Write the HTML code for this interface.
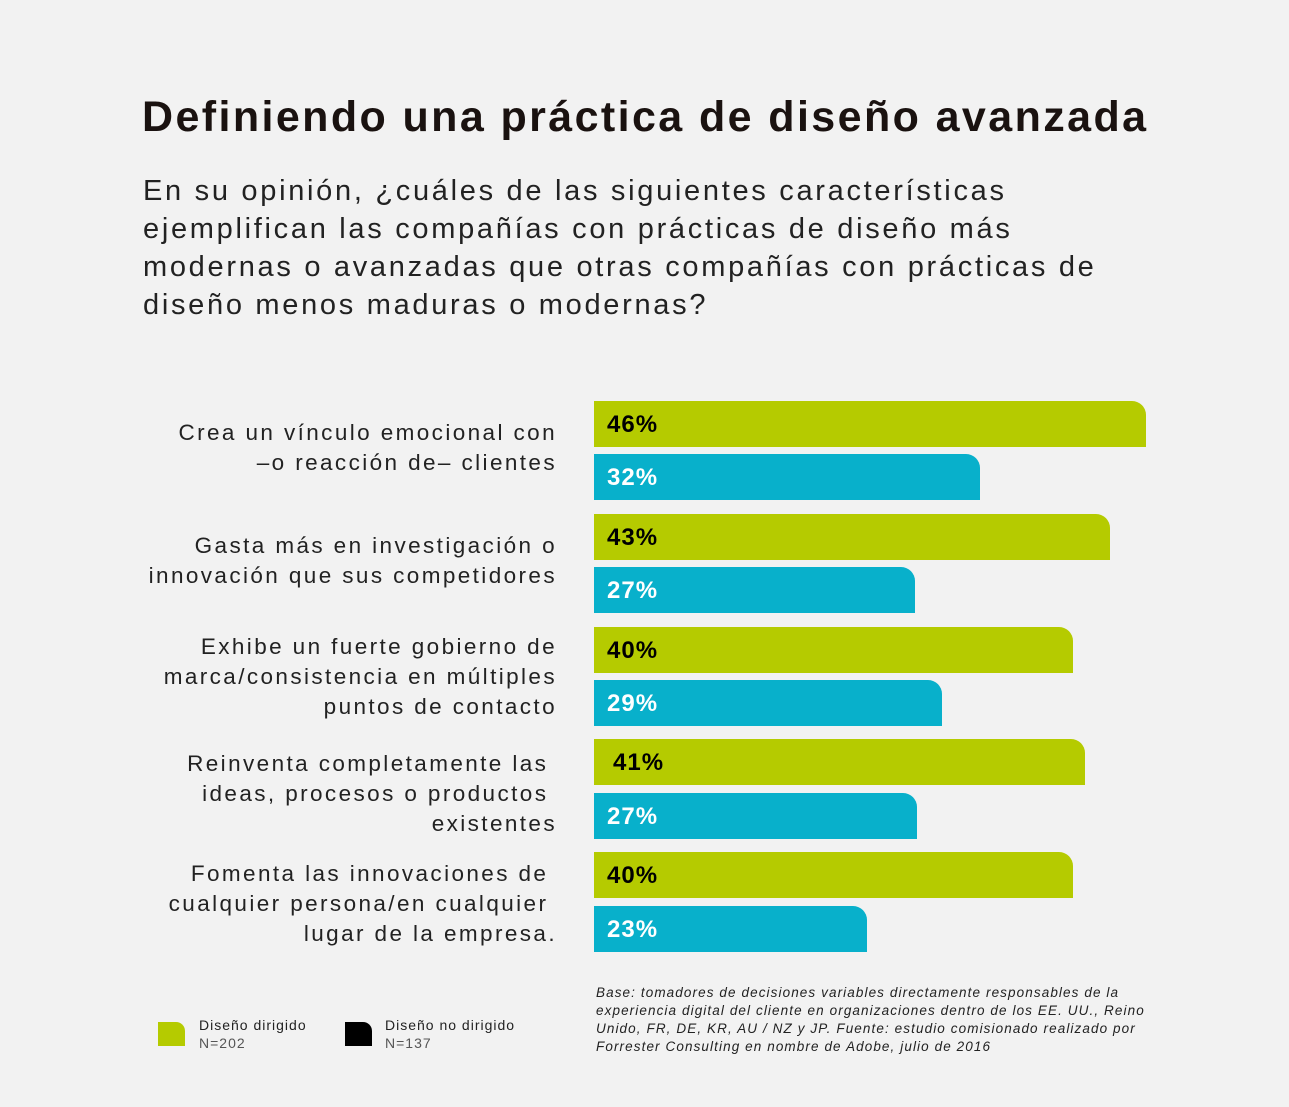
<!DOCTYPE html>
<html><head><meta charset="utf-8"><style>
body{margin:0;width:1289px;height:1107px;background:#f2f2f2;font-family:"Liberation Sans",sans-serif;position:relative;overflow:hidden;color:#1a1a1a}
.a{position:absolute}
h1{position:absolute;left:142px;top:93px;margin:0;font-size:43px;font-weight:bold;letter-spacing:2.4px;color:#1a1210;white-space:nowrap}
.sub{left:143px;top:172px;font-size:29px;line-height:38px;color:#222;letter-spacing:2.7px;white-space:nowrap}
.lab{right:732px;text-align:right;font-size:22.5px;line-height:30px;color:#222;letter-spacing:2.4px;white-space:nowrap}
.bar{left:594px;height:46px;border-top-right-radius:14px;font-weight:bold;font-size:24px;line-height:48px;box-sizing:border-box;padding-left:13px;letter-spacing:1px}
.g{background:#b5cb00;color:#000}
.b{background:#08b0cb;color:#fff}
.leg{font-size:14px;line-height:18px;color:#222;letter-spacing:1px}
.note{left:596px;top:984px;font-size:13.5px;line-height:18px;font-style:italic;color:#222;letter-spacing:1.1px;white-space:nowrap}
</style></head><body>
<h1>Definiendo una práctica de diseño avanzada</h1>
<div class="a sub">En su opinión, ¿cuáles de las siguientes características<br>ejemplifican las compañías con prácticas de diseño más<br>modernas o avanzadas que otras compañías con prácticas de<br>diseño menos maduras o modernas?</div>

<div class="a lab" style="top:418px">Crea un vínculo emocional con<br>–o reacción de– clientes</div>
<div class="a lab" style="top:531px">Gasta más en investigación o<br>innovación que sus competidores</div>
<div class="a lab" style="top:632px">Exhibe un fuerte gobierno de<br>marca/consistencia en múltiples<br>puntos de contacto</div>
<div class="a lab" style="top:749px">Reinventa completamente las&nbsp;<br>ideas, procesos o productos&nbsp;<br>existentes</div>
<div class="a lab" style="top:859px">Fomenta las innovaciones de&nbsp;<br>cualquier persona/en cualquier&nbsp;<br>lugar de la empresa.</div>

<div class="a bar g" style="top:401px;width:552px">46%</div>
<div class="a bar b" style="top:454px;width:386px">32%</div>
<div class="a bar g" style="top:514px;width:516px">43%</div>
<div class="a bar b" style="top:567px;width:321px">27%</div>
<div class="a bar g" style="top:627px;width:479px">40%</div>
<div class="a bar b" style="top:680px;width:348px">29%</div>
<div class="a bar g" style="top:739px;width:491px;padding-left:19px">41%</div>
<div class="a bar b" style="top:793px;width:323px">27%</div>
<div class="a bar g" style="top:852px;width:479px">40%</div>
<div class="a bar b" style="top:906px;width:273px">23%</div>

<div class="a" style="left:158px;top:1022px;width:27px;height:24px;background:#b5cb00;border-top-right-radius:9px"></div>
<div class="a leg" style="left:199px;top:1016px">Diseño dirigido<br><span style="color:#555">N=202</span></div>
<div class="a" style="left:345px;top:1022px;width:27px;height:24px;background:#000;border-top-right-radius:9px"></div>
<div class="a leg" style="left:385px;top:1016px">Diseño no dirigido<br><span style="color:#555">N=137</span></div>
<div class="a note">Base: tomadores de decisiones variables directamente responsables de la<br>experiencia digital del cliente en organizaciones dentro de los EE. UU., Reino<br>Unido, FR, DE, KR, AU / NZ y JP. Fuente: estudio comisionado realizado por<br>Forrester Consulting en nombre de Adobe, julio de 2016</div>
</body></html>
